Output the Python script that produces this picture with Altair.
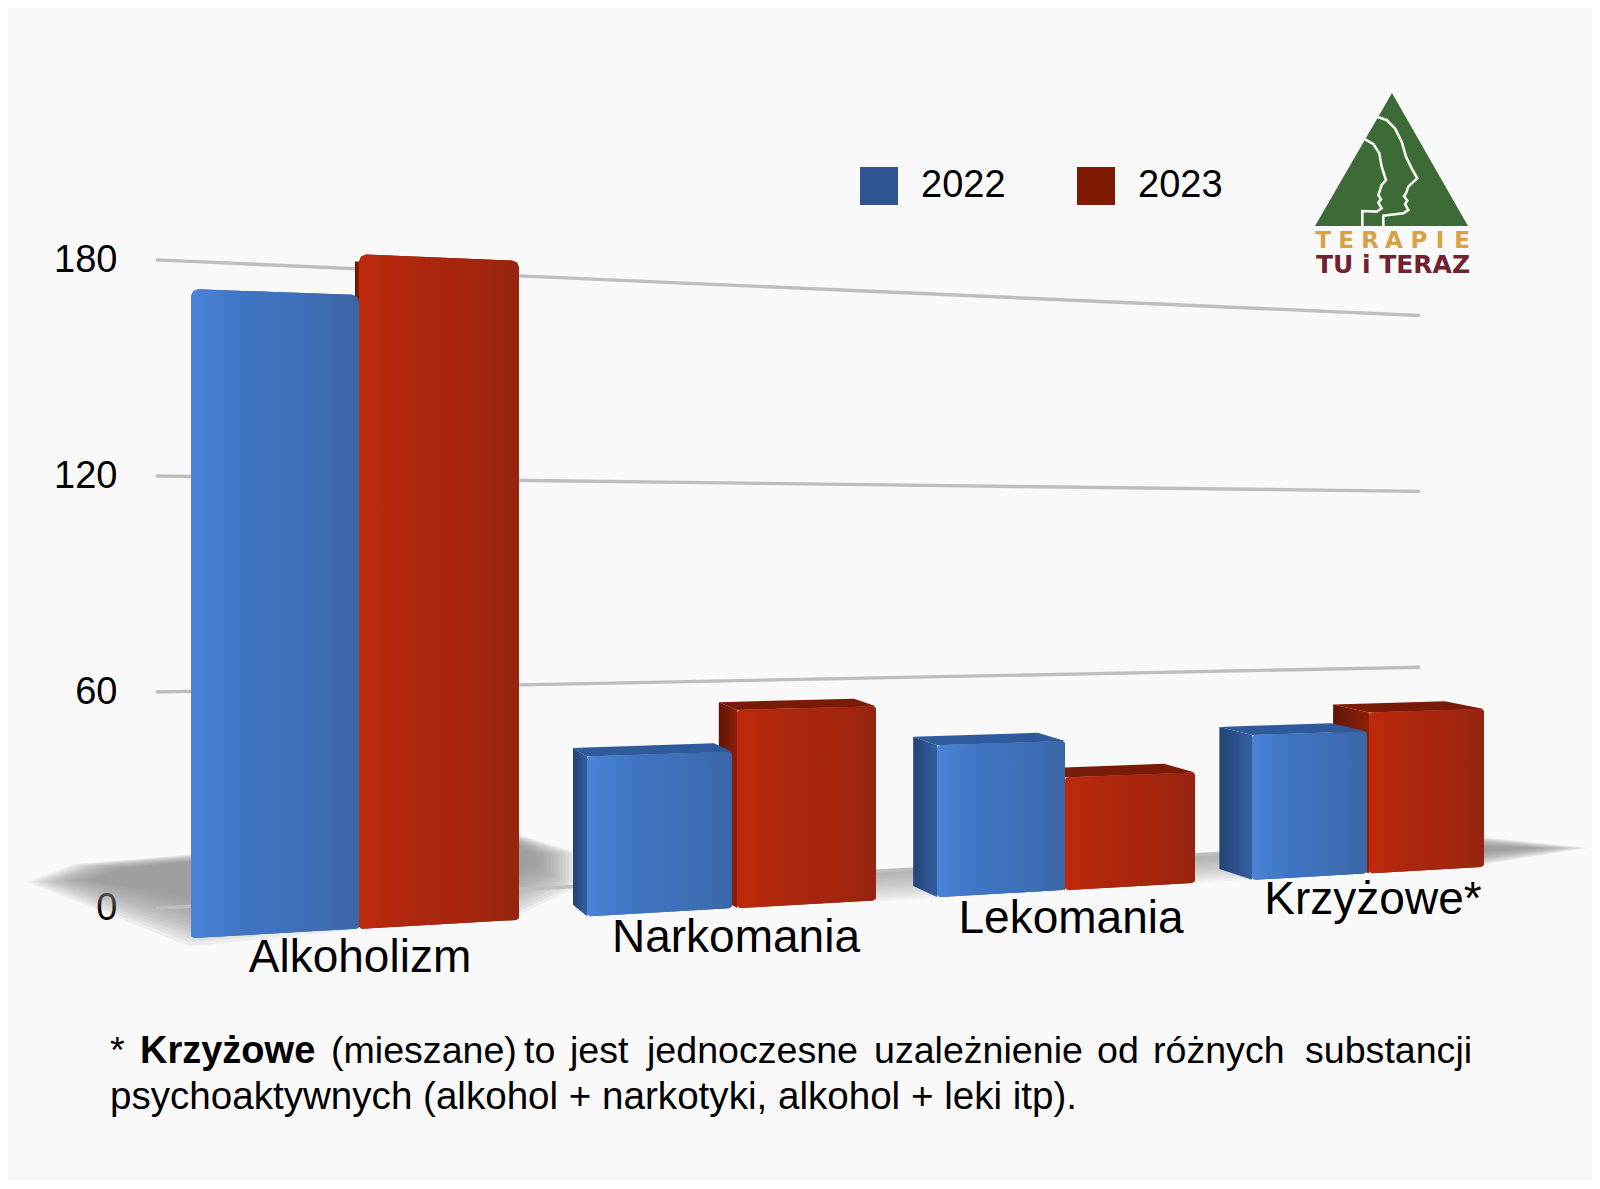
import altair as alt
import pandas as pd

# ---------- chart values ----------
CATEGORIES = ["Alkoholizm", "Narkomania", "Lekomania", "Krzyżowe*"]
VALUES_2022 = [173, 45, 45, 45]
VALUES_2023 = [184, 57, 34, 51]
YEARS = ["2022", "2023"]
TICKS = [0, 60, 120, 180]

# ---------- footnote ----------
NOTE_WORDS = ["*", "Krzyżowe", "(mieszane)", "to", "jest", "jednoczesne",
              "uzależnienie", "od", "różnych", "substancji"]
NOTE_LINE2 = "psychoaktywnych (alkohol + narkotyki, alkohol + leki itp)."

# ---------- layout (perspective of the original 3D scene) ----------
EDGES_2022 = [(191, 359), (587, 732), (937, 1065), (1252, 1367)]
EDGES_2023 = [(359, 519), (737, 876), (1065, 1195), (1369, 1484)]
LABEL_CX = [360, 736, 1071, 1373]
LABEL_DROP = [43.5, 43.5, 43.5, 40.5]
NOTE_X = [110, 140, 331, 524, 570, 647, 874, 1097, 1153, 1305]


def v(y):            # picture height -> value on the axis scale
    return (908 - y) / 3.6


def floor_y(x):      # floor line under the bars' front faces
    return 938 - 0.0549 * (x - 191)


def front_scale(x):  # length of one unit at the front plane
    return 3.75 - 0.000504 * (x - 190)


def wall_y(val, x):  # gridlines on the receding back wall
    return 908 - 65 / 1265 * (x - 158) - val * (3.6 - 0.67 / 1265 * (x - 158))


def depth_x(x):
    if x < 250:
        return 0
    if x < 400:
        return -4
    return -max(0, 14 + (x - 587) * 0.028)


def depth_y(y):
    return min(0, -0.018 * (y - 280))


def poly(pid, pts):
    """A closed polygon as area rows (x, y, y2)."""
    xs = sorted({p[0] for p in pts})
    rows = []
    n = len(pts)
    for x in xs:
        ys = []
        for i in range(n):
            (x0, y0), (x1, y1) = pts[i], pts[(i + 1) % n]
            if min(x0, x1) <= x <= max(x0, x1):
                if x0 == x1:
                    ys += [y0, y1]
                else:
                    ys.append(y0 + (y1 - y0) * (x - x0) / (x1 - x0))
        rows.append({"id": pid, "x": x, "y": v(min(ys)), "y2": v(max(ys))})
    return rows


def bar_faces(edges, values, prefix):
    front, side, top = [], [], []
    for i, ((xl, xr), val) in enumerate(zip(edges, values)):
        tl = floor_y(xl) - val * front_scale(xl)
        tr = floor_y(xr) - val * front_scale(xr)
        bl, br = floor_y(xl), floor_y(xr)
        r = 7 if val > 100 else 3
        front += poly(f"{prefix}{i}", [
            (xl, tl + r), (xl + r * 0.3, tl + r * 0.3), (xl + r, tl),
            (xr - r, tr), (xr - r * 0.3, tr + r * 0.3), (xr, tr + r),
            (xr, br - 2), (xr - 3, br), (xl + 3, bl), (xl, bl - 2)])
        xb = xl + depth_x(xl)
        if xb < xl:
            lift = depth_y(tl) if depth_y(tl) < -1 else r
            side += poly(f"{prefix}{i}", [(xb, tl + lift), (xl, tl + (0 if lift < 0 else r)), (xl, bl), (xb, bl + depth_y(bl))])
        if depth_y(tl) < -1:
            top += poly(f"{prefix}{i}", [(xb, tl + depth_y(tl)), (xr + depth_x(xr), tr + depth_y(tr)), (xr, tr), (xl, tl)])
    return pd.DataFrame(front), pd.DataFrame(side), pd.DataFrame(top)


X = alt.X("x:Q", scale=alt.Scale(domain=[8, 1592], nice=False, zero=False), axis=None)
Y_SCALE = alt.Scale(domain=[v(1181), v(8)], nice=False, zero=False)
Y = alt.Y("y:Q", scale=Y_SCALE, title=None,
          axis=alt.Axis(values=TICKS, domain=False, ticks=False, grid=False, offset=-109,
                        labelFont="Liberation Sans", labelFontSize=38, labelColor="#000000",
                        labelPadding=0, labelBaseline="middle"))
Y2 = alt.Y2("y2:Q")


def hgrad(*stops):
    n = len(stops) - 1
    return alt.LinearGradient(gradient="linear", x1=0, x2=1, y1=0, y2=0,
                              stops=[alt.GradientStop(offset=i / n, color=c) for i, c in enumerate(stops)])


def faces(df, fill):
    return alt.Chart(df).mark_area(fill=fill, interpolate="linear", strokeWidth=0).encode(x=X, y=Y, y2=Y2, detail="id:N")


# ---------- floor shadow: stacked soft layers ----------
N = 14
end_rows, mid_rows = [], []
for k in range(N):
    t = (k + 1) / N
    lo = lambda a, b: a + (b - a) * t
    # left of the first bars and behind the Alkoholizm group
    end_rows += poly(f"l{k}", [(lo(22, 90), lo(882, 880)), (lo(70, 125), lo(864, 868)), (190, lo(854, 862)), (519, lo(834, 845)),
                               (lo(578, 535), lo(852, 856)), (lo(578, 535), lo(890, 866)),
                               (519, lo(918, 870)), (190, lo(950, 898))])
    # right end of the floor
    end_rows += poly(f"r{k}", [(1480, lo(836, 846)), (lo(1592, 1530), lo(848, 848)), (1480, lo(866, 852))])
    # narrow strip under the gridline in the middle
    mid_rows += poly(f"m{k}", [(575, 880), (880, 870), (1210, 854), (1480, 842),
                               (1480, lo(868, 846)), (1210, lo(884, 858)), (880, lo(904, 874)), (575, lo(915, 884))])
mark_shadow = dict(color="#8b8d8c", interpolate="linear")
shadow_end = alt.Chart(pd.DataFrame(end_rows)).mark_area(opacity=0.1, **mark_shadow).encode(
    x=X, y=Y, y2=Y2, detail="id:N")
shadow_mid = alt.Chart(pd.DataFrame(mid_rows)).mark_area(opacity=0.06, **mark_shadow).encode(
    x=X, y=Y, y2=Y2, detail="id:N")
layers = [shadow_end, shadow_mid]

# ---------- gridlines ----------
grid_rows = []
for tick in TICKS:
    for x in (156, 1420):
        grid_rows.append({"tick": tick, "x": x, "y": v(wall_y(tick, x))})
layers.append(alt.Chart(pd.DataFrame(grid_rows)).mark_line(color="#bebebe", strokeWidth=3.4).encode(
    x=X, y=Y, detail="tick:N"))

# ---------- bars ----------
f22, s22, t22 = bar_faces(EDGES_2022, VALUES_2022, "a")
f23, s23, t23 = bar_faces(EDGES_2023, VALUES_2023, "b")

base = pd.concat([f22.assign(Rok=YEARS[0]), f23.assign(Rok=YEARS[1])])
layers.append(alt.Chart(base).mark_area(interpolate="linear").encode(
    x=X, y=Y, y2=Y2, detail="id:N",
    color=alt.Color("Rok:N",
                    scale=alt.Scale(domain=YEARS, range=["#2f5490", "#7f1a02"]),
                    legend=alt.Legend(orient="none", legendX=852, legendY=159, direction="horizontal",
                                      title=None, symbolType="square", symbolSize=1444, symbolStrokeWidth=0,
                                      symbolOpacity=1, labelFont="Liberation Sans", labelFontSize=38,
                                      labelColor="#000000", columnPadding=71, labelOffset=23)),
))

RED_FRONT = hgrad("#bf2a0c", "#ae270d", "#a6260e", "#96240f")
RED_SIDE = hgrad("#5e1606", "#8f1f08")
RED_TOP = "#7a1a08"
BLUE_FRONT = hgrad("#4a84d8", "#3f74c2", "#3e70b8", "#3a66a6")
BLUE_SIDE = hgrad("#234476", "#35609f")
BLUE_TOP = "#2f5a9c"

layers += [faces(s23, RED_SIDE), faces(t23, RED_TOP), faces(f23, RED_FRONT),
           faces(s22, BLUE_SIDE), faces(t22, BLUE_TOP), faces(f22, BLUE_FRONT)]


# ---------- text ----------
def texts(rows, **mark):
    df = pd.DataFrame(rows, columns=["x", "py", "t"])
    df["y"] = df["py"].map(v)
    return alt.Chart(df).mark_text(baseline="alphabetic", **mark).encode(x=X, y=Y, text="t:N")


cat_rows = [(cx, floor_y(cx) + d, c) for cx, d, c in zip(LABEL_CX, LABEL_DROP, CATEGORIES)]
layers.append(texts(cat_rows, font="Liberation Sans", fontSize=46, color="#000000", align="center"))

note_rows = [(x, 1063, w) for x, w in zip(NOTE_X, NOTE_WORDS) if w != "Krzyżowe"]
layers.append(texts(note_rows, font="Liberation Sans", fontSize=37.6, color="#000000", align="left"))
layers.append(texts([(110, 1109, NOTE_LINE2)], font="Liberation Sans", fontSize=38.6, color="#000000", align="left"))
layers.append(texts([(NOTE_X[1], 1063, NOTE_WORDS[1])], font="Liberation Sans", fontSize=38,
                    fontWeight="bold", color="#000000", align="left"))

# ---------- logo ----------
LOGO_TRIANGLE = [(1392, 93), (1468, 226), (1315, 226)]
FACE_A = [(290, 140), (320, 150), (345, 175), (365, 215), (378, 260), (395, 295), (412, 325), (395, 340),
          (385, 350), (378, 370), (372, 378), (382, 392), (375, 402), (385, 420), (370, 430), (310, 437), (310, 468)]
FACE_B = [(250, 205), (280, 222), (298, 250), (305, 290), (318, 330), (305, 345), (300, 360), (295, 375),
          (303, 388), (295, 398), (305, 415), (290, 425), (247, 423), (247, 468)]
layers.append(alt.Chart(pd.DataFrame(poly("logo", LOGO_TRIANGLE))).mark_area(color="#3c6b37", interpolate="linear").encode(
    x=X, y=Y, y2=Y2))
face_rows = []
for name, pts in (("a", FACE_A), ("b", FACE_B)):
    for i, (zx, zy) in enumerate(pts):
        face_rows.append({"f": name, "i": i, "x": 1280 + zx / 3, "y": v(70 + zy / 3)})
layers.append(alt.Chart(pd.DataFrame(face_rows)).mark_line(color="#f7f7f2", strokeWidth=2.6, interpolate="linear").encode(
    x=X, y=Y, detail="f:N", order="i:Q"))
layers.append(texts([(c, 248, ch) for c, ch in zip([1323, 1346, 1370, 1394, 1419, 1440, 1462], "TERAPIE")],
                    font="DejaVu Sans", fontSize=23, fontWeight="bold", color="#d9a044", align="center"))
layers.append(texts([(1393, 273, "TU i TERAZ")], font="DejaVu Sans", fontSize=25, fontWeight="bold",
                    color="#6e2232", align="center"))

chart = alt.layer(*layers).properties(
    width=1584, height=1173, background="#f9f9f9", padding=0,
    autosize=alt.AutoSizeParams(type="fit", contains="padding"),
).configure_view(stroke=None)

chart.save("out.html", embed_options={"renderer": "svg", "actions": False})
